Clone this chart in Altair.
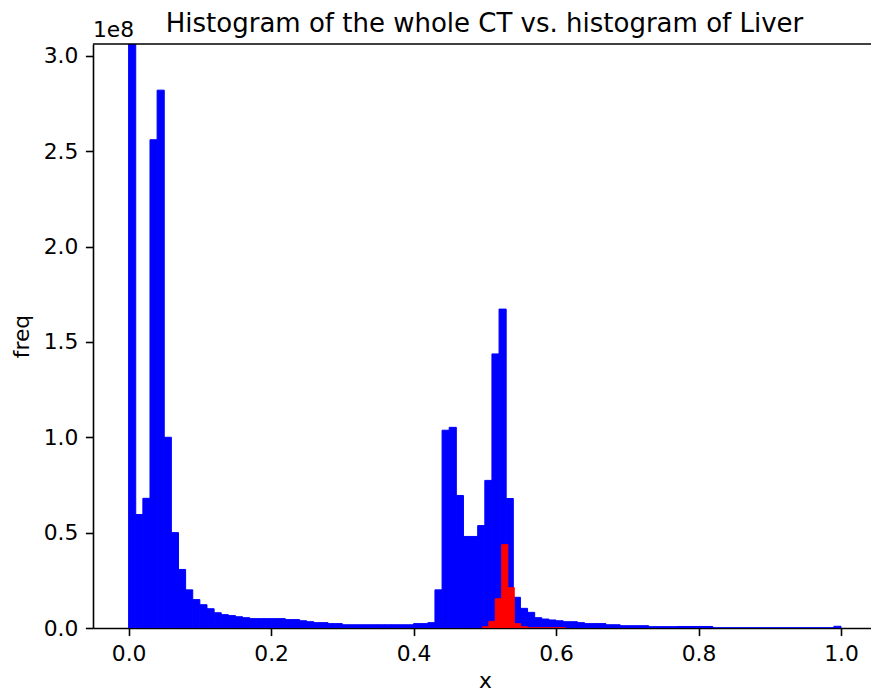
import altair as alt
import pandas as pd

# ---- data (counts in units of 1e8) ----
BIN_WIDTH = 0.01
blue_counts = [
    3.25, 0.595, 0.68, 2.56, 2.82, 1.00, 0.50, 0.307, 0.20, 0.149,
    0.122, 0.101, 0.080, 0.070, 0.065, 0.059, 0.054, 0.049, 0.049, 0.049,
    0.049, 0.049, 0.044, 0.044, 0.038, 0.033, 0.028, 0.028, 0.023, 0.023,
    0.017, 0.017, 0.017, 0.017, 0.017, 0.017, 0.017, 0.017, 0.017, 0.017,
    0.023, 0.023, 0.028, 0.20, 1.037, 1.052, 0.695, 0.48, 0.48, 0.537,
    0.774, 1.437, 1.672, 0.679, 0.161, 0.103, 0.082, 0.054, 0.047, 0.042,
    0.038, 0.033, 0.033, 0.028, 0.023, 0.023, 0.023, 0.017, 0.017, 0.012,
    0.012, 0.012, 0.012, 0.007, 0.007, 0.007, 0.007, 0.008, 0.008, 0.008,
    0.008, 0.008, 0.001, 0.001, 0.001, 0.001, 0.001, 0.001, 0.001, 0.001,
    0.001, 0.001, 0.001, 0.001, 0.001, 0.001, 0.001, 0.001, 0.001, 0.009,
]

RED_WIDTH = 0.009
red_left = [0.4965, 0.5055, 0.5145, 0.5235, 0.5325, 0.5415, 0.5505,
            0.5595, 0.5685, 0.5775, 0.5865, 0.5955, 0.6045]
red_counts = [0.007, 0.035, 0.154, 0.438, 0.212, 0.023, 0.007,
              0.0015, 0.0015, 0.0015, 0.0015, 0.0015, 0.0015]

x_ticks = [0.0, 0.2, 0.4, 0.6, 0.8, 1.0]
y_ticks = [0.0, 0.5, 1.0, 1.5, 2.0, 2.5, 3.0]

TITLE = "Histogram of the whole CT vs. histogram of Liver"
OFFSET_TEXT = "1e8"

# ---- tables ----
blue_df = pd.DataFrame({
    "x0": [round(i * BIN_WIDTH, 4) for i in range(len(blue_counts))],
    "count": blue_counts,
})
blue_df["x1"] = blue_df["x0"] + BIN_WIDTH
red_df = pd.DataFrame({"x0": red_left, "count": red_counts})
red_df["x1"] = red_df["x0"] + RED_WIDTH

FONT = "DejaVu Sans"
W, H = 778, 584

xscale = alt.Scale(domain=[-0.05, 1.0421], nice=False, zero=False)
yscale = alt.Scale(domain=[0, 3.062], nice=False, zero=True)

x_axis = alt.Axis(
    values=x_ticks, format=".1f", title="x", grid=False,
    titleX=392, titleY=59, titleBaseline="alphabetic", titleAlign="center",
)
y_axis = alt.Axis(
    values=y_ticks, format=".1f", title="freq", grid=False,
    titleAngle=270, titleX=-65, titleY=292, titleBaseline="alphabetic",
    titleAlign="center",
)

blue = alt.Chart(blue_df).mark_rect(
    color="#0000ff", stroke="#0000ff", strokeWidth=1.0, clip=True
).encode(
    x=alt.X("x0:Q", scale=xscale, axis=x_axis),
    x2="x1:Q",
    y=alt.Y("count:Q", scale=yscale, axis=y_axis),
    y2=alt.datum(0),
)

red = alt.Chart(red_df).mark_rect(
    color="#ff0000", stroke="#ff0000", strokeWidth=0.8, clip=True
).encode(
    x=alt.X("x0:Q", scale=xscale),
    x2="x1:Q",
    y=alt.Y("count:Q", scale=yscale),
    y2=alt.datum(0),
)

top_spine = alt.Chart(pd.DataFrame({"a": [0]})).mark_rule(
    color="black", strokeWidth=1.6
).encode(x=alt.value(0), x2=alt.value(W), y=alt.value(0))

title_text = alt.Chart(pd.DataFrame({"t": [TITLE]})).mark_text(
    font=FONT, fontSize=26, align="center", baseline="alphabetic", color="black"
).encode(x=alt.value(391.5), y=alt.value(-12.3), text="t:N")

offset_text = alt.Chart(pd.DataFrame({"t": [OFFSET_TEXT]})).mark_text(
    font=FONT, fontSize=21.8, align="left", baseline="alphabetic", color="black"
).encode(x=alt.value(0), y=alt.value(-7), text="t:N")

chart = alt.layer(blue, red, top_spine, title_text, offset_text).properties(
    width=W, height=H,
    autosize=alt.AutoSizeParams(type="none"),
    padding={"left": 93, "top": 44, "right": 0, "bottom": 62},
).configure_view(stroke=None).configure_axis(
    labelFont=FONT, titleFont=FONT, labelFontSize=21.8, titleFontSize=21.8,
    labelColor="black", titleColor="black", titleFontWeight="normal",
    domainColor="black", domainWidth=1.6, tickColor="black", tickWidth=1.6,
    tickSize=7.6, labelPadding=7.6,
)

chart.save("out.html", embed_options={"renderer": "svg", "actions": False})
